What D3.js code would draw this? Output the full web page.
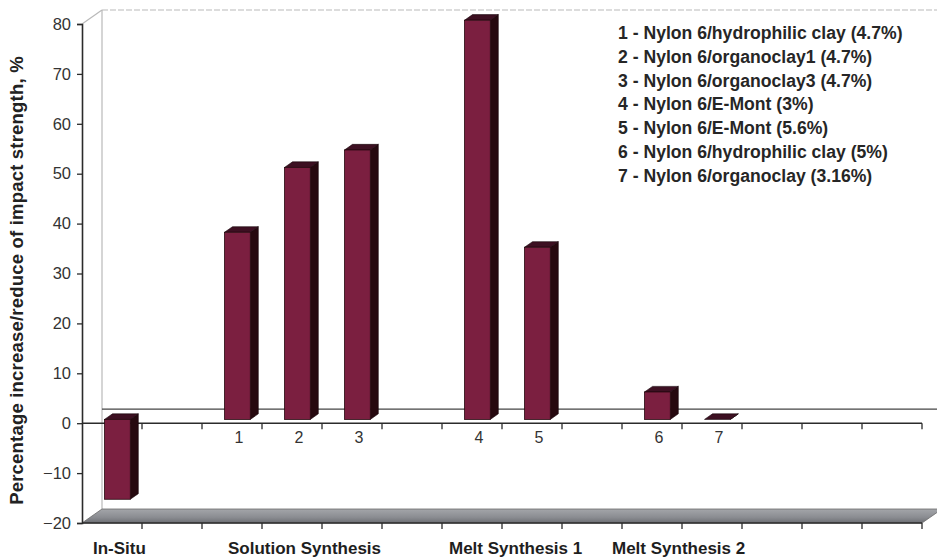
<!DOCTYPE html>
<html>
<head>
<meta charset="utf-8">
<script src="https://cdn.jsdelivr.net/npm/d3@7/dist/d3.min.js"></script>
<style>
  html, body { margin: 0; padding: 0; background: #ffffff; }
  svg { display: block; font-family: "Liberation Sans", Arial, sans-serif; }
</style>
</head>
<body>
<svg id="chart" width="937" height="559"></svg>
<script>
// Category slots along the x axis (empty slots leave gaps between groups)
const categories = ["In-Situ", "gapA", "1", "2", "3", "gapB", "4", "5", "gapC", "6", "7", "gapD", "gapE", "gapF"];
const tickLabels = ["", "", "1", "2", "3", "", "4", "5", "", "6", "7", "", "", ""];
const values = [-16, null, 37.5, 50.5, 54, null, 80, 34.5, null, 5.5, 0, null, null, null];
const yTicks = [-20, -10, 0, 10, 20, 30, 40, 50, 60, 70, 80];
const groupNames = ["In-Situ", "Solution Synthesis", "Melt Synthesis 1", "Melt Synthesis 2"];
const legendItems = [
  "1 - Nylon 6/hydrophilic clay (4.7%)",
  "2 - Nylon 6/organoclay1 (4.7%)",
  "3 - Nylon 6/organoclay3 (4.7%)",
  "4 - Nylon 6/E-Mont (3%)",
  "5 - Nylon 6/E-Mont (5.6%)",
  "6 - Nylon 6/hydrophilic clay (5%)",
  "7 - Nylon 6/organoclay (3.16%)"
];
const yTitle = "Percentage increase/reduce of impact strength, %";

// Layout
const svg = d3.select("#chart");
const plotLeft = 82, plotRight = 922, plotTop = 24, plotBottom = 523;
const depthX = 20, depthY = -14;          // 3D depth of the plot box
const barFront = 0.27, barBack = 0.67;    // bar depth span (fraction of box depth)
const barWidthFrac = 0.43;

const x = d3.scaleBand().domain(categories).range([plotLeft, plotRight]).padding(0);
const y = d3.scaleLinear().domain([-20, 80]).range([plotBottom, plotTop]);

const axisColor = "#2b2b2b";
const wallColor = "#b9b9b9";

// Back wall edges
svg.append("line").attr("x1", plotLeft).attr("y1", plotTop).attr("x2", plotLeft + depthX).attr("y2", plotTop + depthY)
  .attr("stroke", wallColor).attr("stroke-width", 1.2);
svg.append("line").attr("x1", plotLeft + depthX).attr("y1", plotTop + depthY).attr("x2", 937).attr("y2", plotTop + depthY)
  .attr("stroke", wallColor).attr("stroke-width", 1.2).attr("stroke-dasharray", "6,2");
svg.append("line").attr("x1", plotLeft + depthX).attr("y1", plotTop + depthY).attr("x2", plotLeft + depthX).attr("y2", plotBottom + depthY)
  .attr("stroke", wallColor).attr("stroke-width", 1.2);

// Floor slab at the bottom of the value range
const defs = svg.append("defs");
const fg = defs.append("linearGradient").attr("id", "floorGrad").attr("x1", 0).attr("y1", 0).attr("x2", 0).attr("y2", 1);
fg.append("stop").attr("offset", "0%").attr("stop-color", "#a4a6aa");
fg.append("stop").attr("offset", "60%").attr("stop-color", "#8a8c91");
fg.append("stop").attr("offset", "100%").attr("stop-color", "#6c6e73");
const floorPts = [[plotLeft, plotBottom], [plotLeft + depthX, plotBottom + depthY], [plotRight + depthX, plotBottom + depthY], [plotRight, plotBottom]];
svg.append("path").attr("d", d3.line()(floorPts) + "Z").attr("fill", "url(#floorGrad)").attr("stroke", "#6a6a6a").attr("stroke-width", 0.8);

// Back zero line on the wall/plane
svg.append("line").attr("x1", plotLeft + depthX).attr("y1", y(0) + depthY).attr("x2", 937).attr("y2", y(0) + depthY)
  .attr("stroke", "#444").attr("stroke-width", 1.2);

// Front zero axis
svg.append("line").attr("x1", plotLeft).attr("y1", y(0)).attr("x2", plotRight).attr("y2", y(0))
  .attr("stroke", axisColor).attr("stroke-width", 1.4);

// Bars (front face, side face, top cap)
const fx = depthX * barFront, fy = depthY * barFront;
const dx = depthX * (barBack - barFront), dy = depthY * (barBack - barFront);
const barData = categories.map((c, i) => ({ c, v: values[i] })).filter(d => d.v !== null);
const bw = x.bandwidth() * barWidthFrac;

const bars = svg.append("g").attr("class", "bars");
barData.forEach(d => {
  const cx = x(d.c) + x.bandwidth() / 2 + fx;
  const x0 = cx - bw / 2, x1 = cx + bw / 2;
  const yTop = Math.min(y(d.v), y(0)) + fy;
  const yBot = Math.max(y(d.v), y(0)) + fy;
  const g = bars.append("g");
  // side face
  g.append("path").attr("d", d3.line()([[x1, yTop], [x1 + dx, yTop + dy], [x1 + dx, yBot + dy], [x1, yBot]]) + "Z")
    .attr("fill", "#26090f").attr("stroke", "#16050a").attr("stroke-width", 0.6);
  // top cap
  g.append("path").attr("d", d3.line()([[x0, yTop], [x0 + dx, yTop + dy], [x1 + dx, yTop + dy], [x1, yTop]]) + "Z")
    .attr("fill", "#3d1022").attr("stroke", "#16050a").attr("stroke-width", 0.6);
  // front face
  if (yBot - yTop > 0.5) {
    g.append("rect").attr("x", x0).attr("y", yTop).attr("width", bw).attr("height", yBot - yTop)
      .attr("fill", "#7b1f40").attr("stroke", "#26090f").attr("stroke-width", 0.8);
  }
});

// Tick marks on the front zero axis and the bottom axis
const bounds = categories.map(c => x(c) + x.bandwidth());
[y(0), plotBottom].forEach(yy => {
  svg.append("g").selectAll("line").data(bounds).join("line")
    .attr("x1", d => d).attr("x2", d => d).attr("y1", yy).attr("y2", yy + 6)
    .attr("stroke", axisColor).attr("stroke-width", 1.3);
});
svg.append("line").attr("x1", plotLeft).attr("y1", plotBottom).attr("x2", plotRight).attr("y2", plotBottom)
  .attr("stroke", axisColor).attr("stroke-width", 1.4);

// Category numbers under the zero axis
svg.append("g").selectAll("text").data(categories.map((c, i) => ({ c, t: tickLabels[i] })).filter(d => d.t))
  .join("text")
  .attr("x", d => x(d.c) + x.bandwidth() / 2 + 7)
  .attr("y", y(0) + 20)
  .attr("text-anchor", "middle")
  .attr("font-size", 16).attr("fill", "#333")
  .text(d => d.t);

// Y axis
const yAxis = d3.axisLeft(y).tickValues(yTicks).tickSize(5).tickPadding(6).tickFormat(d3.format("d"));
const ya = svg.append("g").attr("transform", `translate(${plotLeft},0)`).call(yAxis);
ya.select(".domain").attr("stroke", axisColor).attr("stroke-width", 1.6);
ya.selectAll(".tick line").attr("stroke", axisColor).attr("stroke-width", 1.3);
ya.selectAll(".tick text").attr("font-size", 16.5).attr("fill", "#333").attr("font-family", "Liberation Sans, Arial, sans-serif");

// Y axis title
svg.append("text")
  .attr("transform", `translate(23, ${(plotTop + plotBottom) / 2 + 7}) rotate(-90)`)
  .attr("text-anchor", "middle")
  .attr("font-size", 18.5).attr("font-weight", "bold").attr("fill", "#222")
  .attr("letter-spacing", 0.2)
  .text(yTitle);

// Group names along the bottom
const groupX = [93, 228, 449, 612];
svg.append("g").selectAll("text").data(groupNames).join("text")
  .attr("x", (d, i) => groupX[i]).attr("y", 554)
  .attr("font-size", 17).attr("font-weight", "bold").attr("fill", "#1e1e1e")
  .text(d => d);

// Legend
svg.append("g").selectAll("text").data(legendItems).join("text")
  .attr("x", 618).attr("y", (d, i) => 39 + i * 23.8)
  .attr("font-size", 17.6).attr("font-weight", "bold").attr("fill", "#262626")
  .text(d => d);
</script>
</body>
</html>
